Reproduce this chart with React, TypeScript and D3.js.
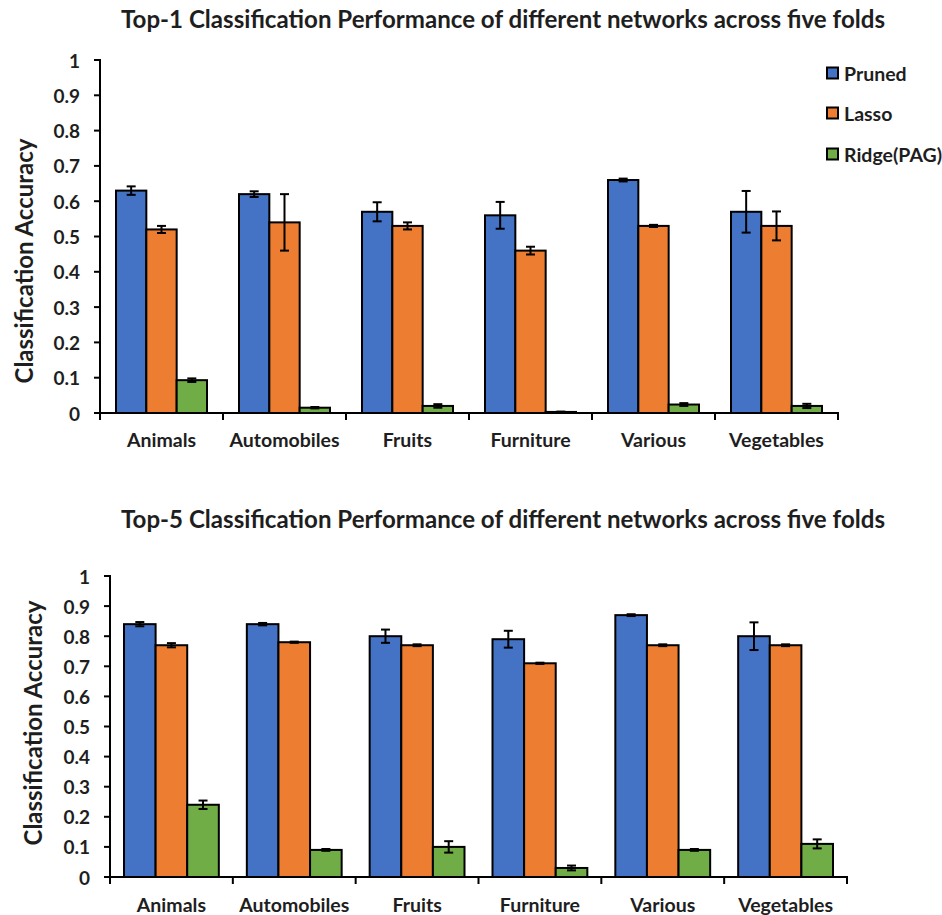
import React from "react";
import * as d3 from "d3";

const categories = ["Animals", "Automobiles", "Fruits", "Furniture", "Various", "Vegetables"];
const seriesNames = ["Pruned", "Lasso", "Ridge(PAG)"];
const seriesColors = ["#4472C4", "#ED7D31", "#70AD47"];
const yTicks = [0, 0.1, 0.2, 0.3, 0.4, 0.5, 0.6, 0.7, 0.8, 0.9, 1];

const top1Pruned = [0.63, 0.62, 0.57, 0.56, 0.66, 0.57];
const top1PrunedErr = [0.012, 0.008, 0.027, 0.038, 0.004, 0.059];
const top1Lasso = [0.52, 0.54, 0.53, 0.46, 0.53, 0.53];
const top1LassoErr = [0.01, 0.08, 0.01, 0.011, 0.003, 0.041];
const top1Ridge = [0.093, 0.015, 0.02, 0.003, 0.024, 0.02];
const top1RidgeErr = [0.005, 0.002, 0.005, 0.001, 0.004, 0.006];

const top5Pruned = [0.84, 0.84, 0.8, 0.79, 0.87, 0.8];
const top5PrunedErr = [0.007, 0.004, 0.022, 0.028, 0.003, 0.046];
const top5Lasso = [0.77, 0.78, 0.77, 0.71, 0.77, 0.77];
const top5LassoErr = [0.007, 0.002, 0.003, 0.002, 0.003, 0.003];
const top5Ridge = [0.24, 0.09, 0.1, 0.03, 0.09, 0.11];
const top5RidgeErr = [0.014, 0.003, 0.019, 0.008, 0.003, 0.015];

const FONT = "Lato, 'Open Sans', sans-serif";
const TEXT = "#1e1e1e";

type ChartProps = {
  title: string;
  titleX: number;
  titleY: number;
  left: number;
  right: number;
  top: number;
  bottom: number;
  groupPad: number;
  values: number[][];
  errors: number[][];
  yLabelX: number;
  yLabelY: number;
  xLabelY: number;
};

function Chart(p: ChartProps) {
  const y = d3.scaleLinear().domain([0, 1]).range([p.bottom, p.top]);
  const x0 = d3.scaleBand<string>().domain(categories).range([p.left, p.right]).padding(0);
  const bw = x0.bandwidth();
  const x1 = d3.scaleBand<string>().domain(seriesNames).range([p.groupPad, bw - p.groupPad]).padding(0);
  const boundaries = d3.range(categories.length + 1).map((i) => p.left + i * bw);
  return (
    <g>
      <text
        x={p.titleX}
        y={p.titleY}
        fontFamily={FONT}
        fontWeight={700}
        fontSize={24}
        fill={TEXT}
        textLength={764}
        lengthAdjust="spacingAndGlyphs"
      >
        {p.title}
      </text>
      <text
        transform={`translate(${p.yLabelX},${p.yLabelY}) rotate(-90)`}
        textAnchor="middle"
        dominantBaseline="central"
        fontFamily={FONT}
        fontWeight={700}
        fontSize={24}
        fill={TEXT}
      >
        Classification Accuracy
      </text>
      {yTicks.map((t) => (
        <g key={t}>
          <line x1={p.left - 6} x2={p.left} y1={y(t)} y2={y(t)} stroke="#000" strokeWidth={2} />
          <text
            x={p.left - 20}
            y={y(t)}
            textAnchor="end"
            dominantBaseline="central"
            fontFamily={FONT}
            fontWeight={700}
            fontSize={19}
            fill={TEXT}
          >
            {String(t)}
          </text>
        </g>
      ))}
      {categories.map((c, ci) => (
        <g key={c} transform={`translate(${x0(c)},0)`}>
          {seriesNames.map((s, si) => {
            const v = p.values[si][ci];
            const e = p.errors[si][ci];
            const bx = x1(s)!;
            const w = x1.bandwidth();
            const cx = bx + w / 2;
            return (
              <g key={s}>
                <rect
                  x={bx}
                  y={y(v)}
                  width={w}
                  height={y(0) - y(v)}
                  fill={seriesColors[si]}
                  stroke="#000"
                  strokeWidth={2}
                />
                <line x1={cx} x2={cx} y1={y(v + e)} y2={y(Math.max(0, v - e))} stroke="#000" strokeWidth={2} />
                <line x1={cx - 4.5} x2={cx + 4.5} y1={y(v + e)} y2={y(v + e)} stroke="#000" strokeWidth={2} />
                <line
                  x1={cx - 4.5}
                  x2={cx + 4.5}
                  y1={y(Math.max(0, v - e))}
                  y2={y(Math.max(0, v - e))}
                  stroke="#000"
                  strokeWidth={2}
                />
              </g>
            );
          })}
          <text
            x={bw / 2}
            y={p.xLabelY}
            textAnchor="middle"
            fontFamily={FONT}
            fontWeight={700}
            fontSize={19.5}
            fill={TEXT}
          >
            {c}
          </text>
        </g>
      ))}
      {boundaries.map((b, i) => (
        <line key={i} x1={b} x2={b} y1={p.bottom} y2={p.bottom + 7} stroke="#000" strokeWidth={2} />
      ))}
      <line x1={p.left} x2={p.left} y1={p.top - 1} y2={p.bottom} stroke="#000" strokeWidth={2} />
      <line x1={p.left} x2={p.right + 1} y1={p.bottom} y2={p.bottom} stroke="#000" strokeWidth={2} />
    </g>
  );
}

export default function App() {
  const legendY = [73, 113, 154];
  return (
    <svg
      width={942}
      height={915}
      style={{ position: "absolute", left: 0, top: 0, background: "#fff" }}
    >
      <rect x={0} y={0} width={942} height={915} fill="#fff" />
      <Chart
        title="Top-1 Classification Performance of different networks across five folds"
        titleX={121}
        titleY={28}
        left={100}
        right={838}
        top={60}
        bottom={413}
        groupPad={16}
        values={[top1Pruned, top1Lasso, top1Ridge]}
        errors={[top1PrunedErr, top1LassoErr, top1RidgeErr]}
        yLabelX={23}
        yLabelY={261}
        xLabelY={447}
      />
      <Chart
        title="Top-5 Classification Performance of different networks across five folds"
        titleX={121}
        titleY={528}
        left={110}
        right={847}
        top={576}
        bottom={877}
        groupPad={14}
        values={[top5Pruned, top5Lasso, top5Ridge]}
        errors={[top5PrunedErr, top5LassoErr, top5RidgeErr]}
        yLabelX={32}
        yLabelY={723}
        xLabelY={912}
      />
      {seriesNames.map((s, i) => (
        <g key={s}>
          <rect x={827} y={legendY[i] - 5.5} width={11} height={11} fill={seriesColors[i]} stroke="#000" strokeWidth={2} />
          <text
            x={844}
            y={legendY[i]}
            dominantBaseline="central"
            fontFamily={FONT}
            fontWeight={700}
            fontSize={19.5}
            fill={TEXT}
          >
            {s}
          </text>
        </g>
      ))}
    </svg>
  );
}
